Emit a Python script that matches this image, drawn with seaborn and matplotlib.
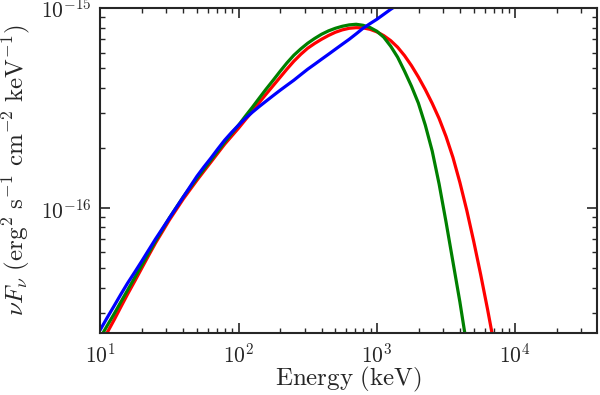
import numpy as np
import pandas as pd
import matplotlib
matplotlib.use("Agg")
import matplotlib.pyplot as plt
import seaborn as sns

# energy grid in keV (0.05 dex steps), nuFnu in units of 1e-16 erg^2 s^-1 cm^-2 keV^-1,
# values
energy = [10, 11.2, 12.6, 14.1, 15.8, 17.8, 20.0, 22.4, 25.1, 28.2, 31.6, 35.5, 39.8, 44.7,
          50.1, 56.2, 63.1, 70.8, 79.4, 89.1, 100, 112, 126, 141, 158, 178, 200, 224, 251,
          282, 316, 355, 398, 447, 501, 562, 631, 708, 794, 891, 1000, 1122, 1259, 1413,
          1585, 1778, 1995, 2239, 2512, 2818, 3162, 3548, 3981, 4467, 5012, 5623, 6310,
          7079, 7943]

flux_blue = [0.2455, 0.2818, 0.3236, 0.370, 0.4217, 0.4786, 0.5433, 0.6166, 0.6998, 0.7907,
             0.8913, 1.007, 1.135, 1.282, 1.445, 1.607, 1.778, 1.977, 2.188, 2.393, 2.600,
             2.812, 3.020, 3.221, 3.428, 3.656, 3.890, 4.121, 4.365, 4.656, 4.955, 5.248,
             5.559, 5.888, 6.237, 6.607, 6.998, 7.447, 7.943, 8.375, 8.810, 9.333, 9.886,
             10.42, 10.96]

flux_red = [0.2042, 0.2371, 0.2754, 0.3199, 0.3715, 0.4315, 0.5012, 0.5794, 0.6683, 0.7638,
            0.8710, 0.984, 1.109, 1.239, 1.380, 1.531, 1.698, 1.884, 2.089, 2.291, 2.512,
            2.767, 3.055, 3.373, 3.715, 4.102, 4.519, 4.966, 5.433, 5.888, 6.310, 6.668,
            6.998, 7.311, 7.586, 7.798, 7.943, 7.998, 7.980, 7.852, 7.621, 7.295, 6.887,
            6.383, 5.794, 5.164, 4.529, 3.917, 3.342, 2.805, 2.280, 1.791, 1.343, 0.9727,
            0.6808, 0.4656, 0.3112, 0.2032, 0.1297]

flux_green = [0.2239, 0.2570, 0.2951, 0.3388, 0.3890, 0.4498, 0.5188, 0.5957, 0.6839, 0.7816,
              0.8913, 1.007, 1.135, 1.268, 1.413, 1.567, 1.738, 1.928, 2.138, 2.360, 2.600,
              2.884, 3.199, 3.548, 3.936, 4.365, 4.842, 5.333, 5.821, 6.266, 6.683, 7.063,
              7.413, 7.709, 7.943, 8.128, 8.260, 8.318, 8.222, 8.017, 7.674, 7.161, 6.457,
              5.689, 4.842, 4.074, 3.350, 2.600, 1.928, 1.318, 0.8511, 0.5370, 0.3388,
              0.2042, 0.1202]

x_ticks = [1e1, 1e2, 1e3, 1e4]
y_ticks = [1e-16, 1e-15]

sns.set_style("ticks")
plt.rcParams.update({
    "font.family": "serif",
    "font.serif": ["cmr10", "DejaVu Serif"],
    "mathtext.fontset": "cm",
    "axes.formatter.use_mathtext": True,
    "axes.linewidth": 1.5,
    "xtick.direction": "in", "ytick.direction": "in",
    "xtick.top": True, "ytick.right": True,
    "xtick.major.size": 7, "ytick.major.size": 7,
    "xtick.minor.size": 3.5, "ytick.minor.size": 3.5,
    "xtick.major.width": 1.2, "ytick.major.width": 1.2,
    "xtick.minor.width": 1.0, "ytick.minor.width": 1.0,
    "xtick.labelsize": 15.5, "ytick.labelsize": 15.5,
})

fig = plt.figure(figsize=(6, 3.95), dpi=100)
ax = fig.add_axes([0.167, 0.157, 0.828, 0.822])

curves = [("r", flux_red), ("g", flux_green), ("b", flux_blue)]
for col, f in curves:
    df = pd.DataFrame({"E": energy[:len(f)], "F": np.array(f) * 1e-16})
    sns.lineplot(data=df, x="E", y="F", color=col, lw=2.3, ax=ax, estimator=None, sort=True)

ax.set_xscale("log")
ax.set_yscale("log")
ax.set_xticks(x_ticks)
ax.set_yticks(y_ticks)
ax.set_xlim(10, 3.9e4)
ax.set_ylim(2.37e-17, 1e-15)
ax.tick_params(which="both", top=True, right=True, direction="in")
ax.tick_params(axis="x", pad=7)
ax.tick_params(axis="y", pad=6)
ax.set_xlabel(r"$\mathrm{Energy\ (keV)}$", fontsize=18, labelpad=-1)
ax.set_ylabel(r"$\nu F_{\nu}\ (\mathrm{erg}^{2}\ \mathrm{s}^{-1}\ \mathrm{cm}^{-2}\ \mathrm{keV}^{-1})$",
              fontsize=18, labelpad=7)

fig.savefig("out.png", dpi=100)
